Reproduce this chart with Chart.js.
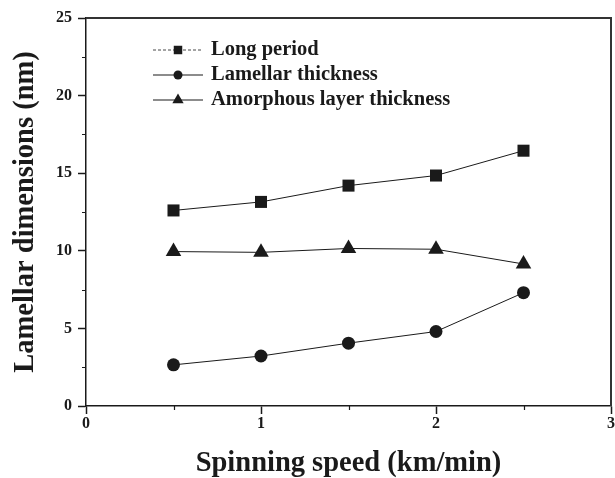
<!DOCTYPE html>
<html>
<head>
<meta charset="utf-8">
<script src="https://cdn.jsdelivr.net/npm/chart.js@4"></script>
<style>
  html, body { margin: 0; padding: 0; background: #fff; }
  #wrap { width: 615px; height: 478px; }
</style>
</head>
<body>
<div id="wrap"><canvas id="lamellar-chart"></canvas></div>
<script>
  const speeds = [0.5, 1.0, 1.5, 2.0, 2.5];
  const longPeriod = [12.6, 13.15, 14.2, 14.85, 16.45];
  const lamellarThickness = [2.65, 3.22, 4.05, 4.8, 7.3];
  const amorphousThickness = [9.95, 9.9, 10.15, 10.1, 9.15];

  const xTicks = [0, 1, 2, 3];
  const yTicks = [0, 5, 10, 15, 20, 25];

  const serif = '"Liberation Serif", "Times New Roman", serif';
  const ink = '#1a1a1a';

  const toPoints = (ys) => speeds.map((x, i) => ({ x: x, y: ys[i] }));

  const series = [
    { label: 'Long period', values: longPeriod, pointStyle: 'rect', radius: 8.5, legendDash: [3, 2] },
    { label: 'Lamellar thickness', values: lamellarThickness, pointStyle: 'circle', radius: 6.5, legendDash: [] },
    { label: 'Amorphous layer thickness', values: amorphousThickness, pointStyle: 'triangle', radius: 9, legendDash: [] },
  ];

  const data = {
    datasets: series.map(s => ({
      label: s.label,
      data: toPoints(s.values),
      borderColor: ink,
      backgroundColor: ink,
      borderWidth: 1,
      pointStyle: s.pointStyle,
      pointRadius: s.radius,
      pointBorderWidth: 0,
      legendDash: s.legendDash,
      tension: 0,
    }))
  };

  // short minor ticks halfway between the labelled ones
  const minorTicks = {
    id: 'minorTicks',
    afterDraw(chart) {
      const ctx = chart.ctx;
      const x = chart.scales.x, y = chart.scales.y;
      ctx.save();
      ctx.strokeStyle = ink;
      ctx.lineWidth = 1.2;
      ctx.beginPath();
      for (let v = 0.5; v < 3; v += 1) {
        const px = Math.round(x.getPixelForValue(v)) + 0.5;
        ctx.moveTo(px, x.top);
        ctx.lineTo(px, x.top + 4);
      }
      for (let v = 2.5; v < 25; v += 5) {
        const py = Math.round(y.getPixelForValue(v)) + 0.5;
        ctx.moveTo(y.right, py);
        ctx.lineTo(y.right - 4, py);
      }
      ctx.stroke();
      ctx.restore();
    }
  };

  // closes the plot box on the top and right
  const frame = {
    id: 'frame',
    beforeDatasetsDraw(chart) {
      const { ctx, chartArea: a } = chart;
      ctx.save();
      ctx.strokeStyle = '#333';
      ctx.lineWidth = 2;
      ctx.beginPath();
      ctx.moveTo(a.left, a.top);
      ctx.lineTo(a.right, a.top);
      ctx.lineTo(a.right, a.bottom);
      ctx.stroke();
      ctx.restore();
    }
  };

  // legend with line + marker samples
  const lineLegend = {
    id: 'lineLegend',
    afterDraw(chart) {
      const ctx = chart.ctx;
      ctx.save();
      chart.data.datasets.forEach((ds, i) => {
        const yy = 50 + i * 25;
        ctx.strokeStyle = ds.borderColor;
        ctx.lineWidth = ds.legendDash.length ? 0.8 : 1.2;
        ctx.setLineDash(ds.legendDash);
        ctx.beginPath();
        ctx.moveTo(153, yy);
        ctx.lineTo(203, yy);
        ctx.stroke();
        ctx.setLineDash([]);
        ctx.fillStyle = ds.backgroundColor;
        Chart.helpers.drawPoint(ctx, {
          pointStyle: ds.pointStyle,
          radius: ds.pointStyle === 'rect' ? 6 : (ds.pointStyle === 'triangle' ? 6.5 : 4.5),
          rotation: 0,
          borderWidth: 0,
        }, 178, yy);
        ctx.fillStyle = ink;
        ctx.font = 'bold 20.5px ' + serif;
        ctx.textBaseline = 'middle';
        ctx.fillText(ds.label, 211, yy);
      });
      ctx.restore();
    }
  };

  const config = {
    type: 'line',
    data: data,
    options: {
      responsive: false,
      animation: false,
      layout: {
        autoPadding: false,
        padding: { top: 18, right: 4, left: 0, bottom: 0 }
      },
      scales: {
        x: {
          type: 'linear',
          min: 0,
          max: 3,
          afterBuildTicks: (scale) => { scale.ticks = xTicks.map(v => ({ value: v })); },
          afterFit: (scale) => {
            scale.height = 72;
            // let the last label run off the edge instead of shrinking the plot
            scale.paddingLeft = 0;
            scale.paddingRight = 0;
          },
          border: { color: ink, width: 1.5 },
          grid: {
            drawOnChartArea: false,
            tickLength: 8,
            tickColor: ink,
            tickWidth: 1.5,
          },
          ticks: {
            color: ink,
            padding: 0,
            maxRotation: 0,
            font: { family: serif, size: 16, weight: 'bold' },
          },
          title: {
            display: true,
            text: 'Spinning speed (km/min)',
            color: ink,
            padding: { top: 0, bottom: 0 },
            font: { family: serif, size: 28.5, weight: 'bold', lineHeight: 1 },
          }
        },
        y: {
          type: 'linear',
          min: 0,
          max: 25,
          afterBuildTicks: (scale) => { scale.ticks = yTicks.map(v => ({ value: v })); },
          afterFit: (scale) => {
            scale.width = 86;
            scale.paddingTop = 0;
            scale.paddingBottom = 0;
          },
          border: { color: ink, width: 1.5 },
          grid: {
            drawOnChartArea: false,
            tickLength: 8,
            tickColor: ink,
            tickWidth: 1.5,
          },
          ticks: {
            color: ink,
            padding: 6,
            font: { family: serif, size: 16, weight: 'bold' },
          },
          title: {
            display: true,
            text: 'Lamellar dimensions (nm)',
            color: ink,
            padding: { top: 9, bottom: 0 },
            font: { family: serif, size: 28.5, weight: 'bold', lineHeight: 1.2 },
          }
        }
      },
      plugins: {
        legend: { display: false },
        tooltip: { enabled: false },
      }
    },
    plugins: [frame, minorTicks, lineLegend],
  };

  const canvas = document.getElementById('lamellar-chart');
  canvas.width = 615;
  canvas.height = 478;
  const lamellarChart = new Chart(canvas, config);
</script>
</body>
</html>
